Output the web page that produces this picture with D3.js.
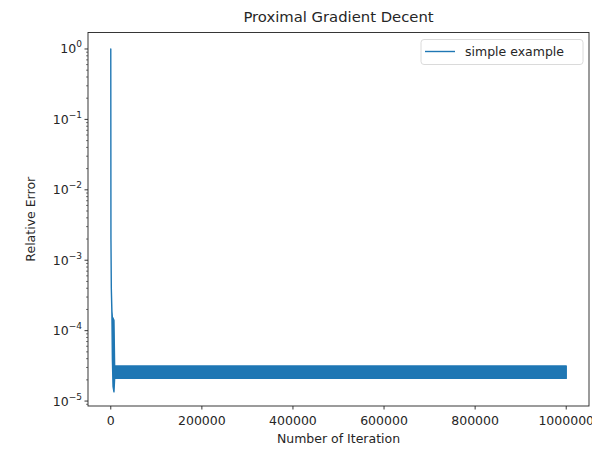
<!DOCTYPE html>
<html>
<head>
<meta charset="utf-8">
<script src="https://cdn.jsdelivr.net/npm/d3@7"></script>
<style>
  body { margin: 0; background: #fff; }
  text { font-family: "DejaVu Sans", sans-serif; fill: #262626; }
</style>
</head>
<body>
<svg id="chart" width="592" height="449"></svg>
<script>
// data: iteration and the envelope of the oscillating error
const iterations = [0, 400, 1200, 2500, 3500, 5000, 7000, 8500, 10000, 1000000];
const errHigh = [1, 2e-3, 4e-4, 1.9e-4, 1.55e-4, 1.5e-4, 1.4e-4, 3.2e-5, 3.15e-5, 3.15e-5];
const errLow  = [1, 2e-3, 4e-4, 1.7e-4, 4e-5, 1.6e-5, 1.35e-5, 2.1e-5, 2.1e-5, 2.1e-5];

const xTicks = [0, 200000, 400000, 600000, 800000, 1000000];
const yExps = [0, -1, -2, -3, -4, -5];

const seriesName = "simple example";
const color = "#1f77b4";

// layout
const plotL = 88, plotR = 589, plotT = 32.5, plotB = 406;
const svg = d3.select("#chart");

const x = d3.scaleLinear().domain([-50000, 1050000]).range([plotL, plotR]);
const y = d3.scaleLog().domain([Math.pow(10, -5.07), Math.pow(10, 0.234)]).range([plotB, plotT]);

const pts = iterations.map((it, i) => ({ it, hi: errHigh[i], lo: errLow[i] }));

// line (drawn as its envelope, it oscillates too fast to see single steps)
const area = d3.area()
  .x(d => x(d.it))
  .y0(d => y(d.lo))
  .y1(d => y(d.hi));

svg.append("path")
  .datum(pts)
  .attr("d", area)
  .attr("fill", color)
  .attr("stroke", color)
  .attr("stroke-width", 1.4)
  .attr("stroke-linejoin", "round");

// frame
svg.append("rect")
  .attr("x", plotL).attr("y", plotT)
  .attr("width", plotR - plotL).attr("height", plotB - plotT)
  .attr("fill", "none").attr("stroke", "#222").attr("stroke-width", 0.9);

// x axis
const xAxis = svg.append("g");
xTicks.forEach(t => {
  xAxis.append("line")
    .attr("x1", x(t)).attr("x2", x(t))
    .attr("y1", plotB).attr("y2", plotB + 3.5)
    .attr("stroke", "#222").attr("stroke-width", 0.9);
  xAxis.append("text")
    .attr("x", x(t)).attr("y", plotB + 19)
    .attr("text-anchor", "middle")
    .attr("font-size", 12.5)
    .text(t);
});

// y axis: majors with 10^n labels, plus minor ticks
const yAxis = svg.append("g");
yExps.forEach(e => {
  const v = Math.pow(10, e);
  yAxis.append("line")
    .attr("x1", plotL - 3.5).attr("x2", plotL)
    .attr("y1", y(v)).attr("y2", y(v))
    .attr("stroke", "#222").attr("stroke-width", 0.9);
  const t = yAxis.append("text")
    .attr("x", plotL - 6).attr("y", y(v) + 4.5)
    .attr("text-anchor", "end")
    .attr("font-size", 12.5);
  t.append("tspan").text("10");
  t.append("tspan").attr("dy", -6).attr("font-size", 9)
    .text(e === 0 ? "0" : "\u2212" + Math.abs(e));
});
const [dLo, dHi] = y.domain();
for (let e = -6; e <= 0; e++) {
  for (let k = 2; k <= 9; k++) {
    const v = k * Math.pow(10, e);
    if (v < dLo || v > dHi) continue;
    yAxis.append("line")
      .attr("x1", plotL - 2).attr("x2", plotL)
      .attr("y1", y(v)).attr("y2", y(v))
      .attr("stroke", "#222").attr("stroke-width", 0.6);
  }
}

// labels
svg.append("text")
  .attr("x", (plotL + plotR) / 2).attr("y", 22)
  .attr("text-anchor", "middle")
  .attr("font-size", 14.8)
  .text("Proximal Gradient Decent");

svg.append("text")
  .attr("x", (plotL + plotR) / 2).attr("y", 443)
  .attr("text-anchor", "middle")
  .attr("font-size", 12.5)
  .text("Number of Iteration");

svg.append("text")
  .attr("transform", `translate(35,${(plotT + plotB) / 2}) rotate(-90)`)
  .attr("text-anchor", "middle")
  .attr("font-size", 12.5)
  .text("Relative Error");

// legend
const lg = svg.append("g");
lg.append("rect")
  .attr("x", 421).attr("y", 39.5)
  .attr("width", 162).attr("height", 25)
  .attr("rx", 3)
  .attr("fill", "#fff").attr("fill-opacity", 0.8)
  .attr("stroke", "#d6d6d6").attr("stroke-width", 0.9);
lg.append("line")
  .attr("x1", 425).attr("x2", 455)
  .attr("y1", 51.5).attr("y2", 51.5)
  .attr("stroke", color).attr("stroke-width", 1.4);
lg.append("text")
  .attr("x", 465).attr("y", 56)
  .attr("font-size", 12.5)
  .text(seriesName);
</script>
</body>
</html>
